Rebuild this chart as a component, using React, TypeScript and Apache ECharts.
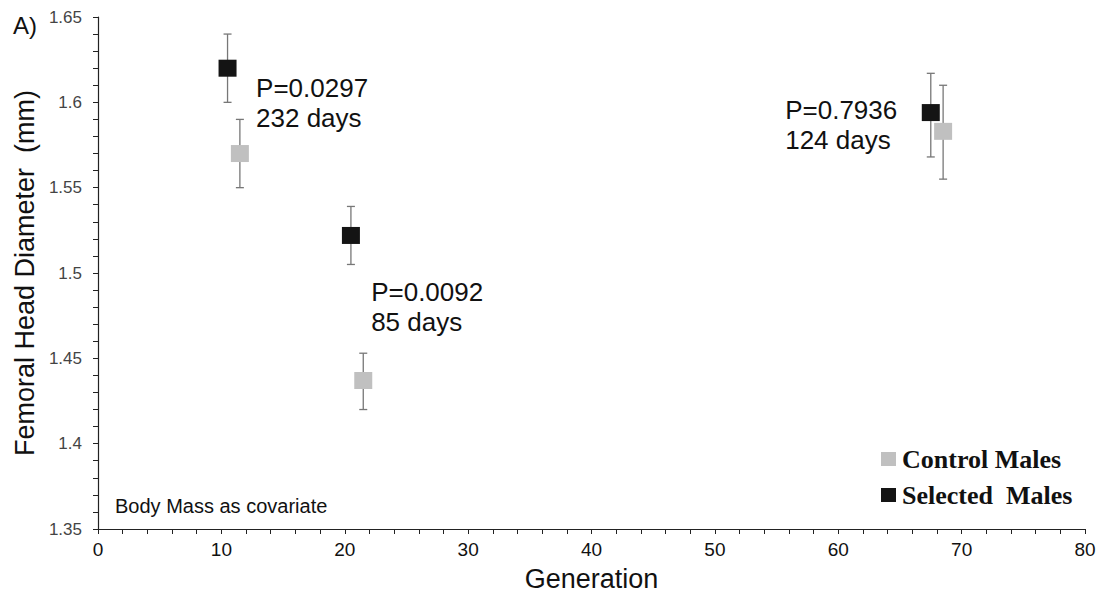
import React, { useEffect, useRef } from "react";
import * as echarts from "echarts";

const seriesNames = ["Control Males", "Selected  Males"];
const controlGen = [11.5, 21.5, 68.5];
const controlMean = [1.57, 1.437, 1.583];
const controlLow = [1.55, 1.42, 1.555];
const controlHigh = [1.59, 1.453, 1.61];
const selectedGen = [10.5, 20.5, 67.5];
const selectedMean = [1.62, 1.522, 1.594];
const selectedLow = [1.6, 1.505, 1.568];
const selectedHigh = [1.64, 1.539, 1.617];
const annotations = [
  { text: "P=0.0297\n232 days", gen: 12.81, val: 1.6172 },
  { text: "P=0.0092\n85 days", gen: 22.14, val: 1.4977 },
  { text: "P=0.7936\n124 days", gen: 55.7, val: 1.6043 },
];

const errorSeries = (gens: number[], lo: number[], hi: number[]) => ({
  type: "custom",
  silent: true,
  z: 1,
  data: gens.map((g, i) => [g, lo[i], hi[i]]),
  renderItem: (params: any, api: any) => {
    const x = api.value(0);
    const pLo = api.coord([x, api.value(1)]);
    const pHi = api.coord([x, api.value(2)]);
    const cap = 4;
    const style = { stroke: "#777", lineWidth: 1.3 };
    return {
      type: "group",
      children: [
        { type: "line", shape: { x1: pLo[0], y1: pLo[1], x2: pHi[0], y2: pHi[1] }, style },
        { type: "line", shape: { x1: pLo[0] - cap, y1: pLo[1], x2: pLo[0] + cap, y2: pLo[1] }, style },
        { type: "line", shape: { x1: pHi[0] - cap, y1: pHi[1], x2: pHi[0] + cap, y2: pHi[1] }, style },
      ],
    };
  },
});

export default function App() {
  const ref = useRef<HTMLDivElement>(null);
  useEffect(() => {
    const chart = echarts.init(ref.current!, null, { renderer: "svg" });
    const axisColor = "#222";
    chart.setOption({
      animation: false,
      backgroundColor: "#fff",
      grid: { left: 98, top: 17, right: 27, bottom: 75 },
      xAxis: {
        type: "value",
        min: 0,
        max: 80,
        interval: 10,
        name: "Generation",
        nameLocation: "middle",
        nameGap: 36,
        nameTextStyle: { fontFamily: "Liberation Sans", fontSize: 27, color: "#111" },
        axisLine: { onZero: false, lineStyle: { color: axisColor, width: 1.2 } },
        axisTick: { show: true, length: 5, lineStyle: { color: axisColor } },
        minorTick: { show: true, splitNumber: 5, length: 5, lineStyle: { color: axisColor } },
        splitLine: { show: false },
        axisLabel: { fontFamily: "Liberation Sans", fontSize: 19, color: "#111", margin: 11 },
      },
      yAxis: {
        type: "value",
        min: 1.35,
        max: 1.65,
        interval: 0.05,
        name: "Femoral Head Diameter  (mm)",
        nameLocation: "middle",
        nameGap: 59,
        nameTextStyle: { fontFamily: "Liberation Sans", fontSize: 27, color: "#111" },
        axisLine: { show: true, onZero: false, lineStyle: { color: axisColor, width: 1.2 } },
        axisTick: { show: true, length: 5, lineStyle: { color: axisColor } },
        minorTick: { show: true, splitNumber: 5, length: 5, lineStyle: { color: axisColor } },
        splitLine: { show: false },
        axisLabel: {
          fontFamily: "Liberation Sans",
          fontSize: 17,
          color: "#444",
          margin: 16,
          formatter: (v: number) => String(parseFloat(v.toFixed(2))),
        },
      },
      legend: {
        orient: "vertical",
        left: 881,
        top: 446,
        padding: 0,
        itemGap: 10,
        itemWidth: 15,
        itemHeight: 14,
        data: [
          { name: seriesNames[0], icon: "rect" },
          { name: seriesNames[1], icon: "rect" },
        ],
        textStyle: { fontFamily: "Liberation Serif", fontWeight: "bold", fontSize: 26, color: "#111", padding: [0, 0, 0, 1] },
      },
      graphic: [
        { type: "text", left: 13, top: 13, style: { text: "A)", fontFamily: "Liberation Sans", fontSize: 24, fill: "#111" } },
        { type: "text", left: 115, top: 496, style: { text: "Body Mass as covariate", fontFamily: "Liberation Sans", fontSize: 20, fill: "#111" } },
      ],
      series: [
        errorSeries(controlGen, controlLow, controlHigh),
        errorSeries(selectedGen, selectedLow, selectedHigh),
        {
          name: seriesNames[0],
          type: "scatter",
          z: 3,
          symbol: "rect",
          symbolSize: [18, 17],
          itemStyle: { color: "#c0c0c0", opacity: 1 },
          data: controlGen.map((g, i) => [g, controlMean[i]]),
        },
        {
          name: seriesNames[1],
          type: "scatter",
          z: 4,
          symbol: "rect",
          symbolSize: [18, 17],
          itemStyle: { color: "#141414", opacity: 1 },
          data: selectedGen.map((g, i) => [g, selectedMean[i]]),
        },
        {
          type: "scatter",
          silent: true,
          symbolSize: 0,
          itemStyle: { opacity: 1 },
          data: annotations.map((a) => ({ value: [a.gen, a.val], label: { formatter: a.text } })),
          label: {
            show: true,
            position: "right",
            distance: 0,
            align: "left",
            verticalAlign: "top",
            fontFamily: "Liberation Sans",
            fontSize: 26,
            lineHeight: 30,
            color: "#111",
            opacity: 1,
          },
        },
      ],
    });
    return () => chart.dispose();
  }, []);
  return <div ref={ref} style={{ position: "fixed", left: 0, top: 0, width: 1112, height: 604 }} />;
}
